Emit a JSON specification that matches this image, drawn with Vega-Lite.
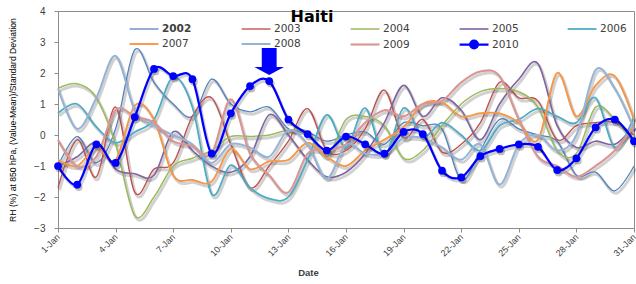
{
  "$schema": "https://vega.github.io/schema/vega-lite/v6.json",
  "width": 576,
  "height": 217,
  "autosize": "none",
  "padding": {"left": 58, "top": 11, "right": 2, "bottom": 56},
  "background": "white",
  "config": {
    "view": {"stroke": "#8c8c8c", "strokeWidth": 1},
    "font": "Liberation Sans",
    "axis": {"labelOverlap": false}
  },
  "title": {
    "text": "Haiti",
    "font": "DejaVu Sans",
    "fontSize": 16,
    "fontWeight": "bold",
    "color": "#000000",
    "anchor": "middle",
    "frame": "group",
    "dx": -34,
    "offset": -27,
    "baseline": "middle"
  },
  "datasets": {
    "rh": [
      {"day": 1, "2002": -1.0, "2003": -1.7, "2004": 1.5, "2005": -1.0, "2006": 0.7, "2007": -0.8, "2008": 1.5, "2009": -0.15, "2010": -1.0},
      {"day": 2, "2002": -0.05, "2003": -0.15, "2004": 1.65, "2005": -0.7, "2006": 1.0, "2007": -1.0, "2008": 0.2, "2009": -1.0, "2010": -1.6},
      {"day": 3, "2002": -0.9, "2003": -1.35, "2004": 1.2, "2005": -0.25, "2006": 0.26, "2007": -0.4, "2008": 1.2, "2009": -0.7, "2010": -0.3},
      {"day": 4, "2002": 0.2, "2003": 0.9, "2004": -0.3, "2005": -1.1, "2006": -0.25, "2007": -0.8, "2008": 2.55, "2009": 0.8, "2010": -0.9},
      {"day": 5, "2002": 2.75, "2003": -1.85, "2004": -2.6, "2005": -1.25, "2006": 0.1, "2007": 0.95, "2008": 0.8, "2009": 0.6, "2010": 0.58},
      {"day": 6, "2002": 1.7, "2003": -1.1, "2004": -2.0, "2005": -1.3, "2006": 0.5, "2007": 0.5, "2008": 0.3, "2009": 0.4, "2010": 2.13},
      {"day": 7, "2002": 1.0, "2003": -0.9, "2004": -1.0, "2005": 0.1, "2006": 1.87, "2007": -1.3, "2008": 0.0, "2009": -0.2, "2010": 1.9},
      {"day": 8, "2002": 0.6, "2003": 0.6, "2004": -0.75, "2005": -0.5, "2006": 0.9, "2007": -1.45, "2008": -0.3, "2009": -0.35, "2010": 1.8},
      {"day": 9, "2002": 1.8, "2003": 1.2, "2004": -0.5, "2005": -1.0, "2006": -1.9, "2007": -1.5, "2008": -0.9, "2009": -0.6, "2010": -0.6},
      {"day": 10, "2002": 1.0, "2003": -0.3, "2004": -0.05, "2005": -1.2, "2006": -0.97, "2007": -0.45, "2008": -0.3, "2009": 1.15, "2010": 0.7},
      {"day": 11, "2002": 0.75, "2003": -1.7, "2004": -0.05, "2005": -0.7, "2006": -1.7, "2007": -1.1, "2008": -0.4, "2009": -0.6, "2010": 1.58},
      {"day": 12, "2002": 0.9, "2003": -1.0, "2004": 0.0, "2005": 0.65, "2006": -2.05, "2007": -0.85, "2008": -0.7, "2009": -1.3, "2010": 1.74},
      {"day": 13, "2002": 0.2, "2003": -0.2, "2004": 0.15, "2005": 0.0, "2006": -2.0, "2007": -0.8, "2008": 0.15, "2009": -1.85, "2010": 0.5},
      {"day": 14, "2002": 0.1, "2003": 0.85, "2004": 0.1, "2005": -0.8, "2006": -0.8, "2007": -0.25, "2008": -0.3, "2009": -0.6, "2010": 0.03},
      {"day": 15, "2002": -0.2, "2003": -0.5, "2004": -0.7, "2005": -1.35, "2006": 0.65, "2007": -0.7, "2008": -1.4, "2009": -0.5, "2010": -0.5},
      {"day": 16, "2002": 0.0, "2003": -0.5, "2004": 0.5, "2005": -1.2, "2006": -0.4, "2007": -1.0, "2008": -0.3, "2009": -0.3, "2010": -0.05},
      {"day": 17, "2002": 0.1, "2003": 0.2, "2004": 0.6, "2005": -0.6, "2006": 0.87, "2007": -0.5, "2008": -0.6, "2009": 0.4, "2010": -0.3},
      {"day": 18, "2002": -0.3, "2003": 1.45, "2004": 0.3, "2005": 0.4, "2006": -0.65, "2007": -0.15, "2008": -0.6, "2009": 0.8, "2010": -0.6},
      {"day": 19, "2002": 0.4, "2003": -0.1, "2004": -0.75, "2005": 1.6, "2006": 0.87, "2007": 0.25, "2008": -0.1, "2009": 0.6, "2010": 0.1},
      {"day": 20, "2002": 0.3, "2003": 0.5, "2004": -0.5, "2005": 0.6, "2006": -0.05, "2007": 1.0, "2008": -0.1, "2009": 1.0, "2010": 0.03},
      {"day": 21, "2002": 0.2, "2003": -0.55, "2004": 0.3, "2005": 1.2, "2006": 0.4, "2007": 1.05, "2008": -0.4, "2009": 1.1, "2010": -1.15},
      {"day": 22, "2002": -1.45, "2003": -0.3, "2004": 1.0, "2005": 0.8, "2006": 0.0, "2007": 0.6, "2008": -0.8, "2009": 1.7, "2010": -1.37},
      {"day": 23, "2002": -0.5, "2003": 0.4, "2004": 1.4, "2005": -0.15, "2006": -0.5, "2007": 0.7, "2008": -0.3, "2009": 2.05, "2010": -0.68},
      {"day": 24, "2002": 0.5, "2003": 1.7, "2004": 1.5, "2005": 1.0, "2006": 0.3, "2007": 0.7, "2008": -1.6, "2009": 1.9, "2010": -0.45},
      {"day": 25, "2002": 0.2, "2003": 1.2, "2004": 1.4, "2005": 1.8, "2006": 0.5, "2007": 0.4, "2008": -0.3, "2009": 0.5, "2010": -0.3},
      {"day": 26, "2002": 0.0, "2003": 1.1, "2004": 0.9, "2005": 2.3, "2006": 0.85, "2007": -0.15, "2008": 0.0, "2009": -0.7, "2010": -0.38},
      {"day": 27, "2002": -0.2, "2003": -0.15, "2004": -0.5, "2005": 0.3, "2006": 0.6, "2007": 2.0, "2008": -0.5, "2009": -1.0, "2010": -1.13},
      {"day": 28, "2002": -1.3, "2003": 0.3, "2004": -0.6, "2005": -0.4, "2006": 0.4, "2007": 0.6, "2008": 0.0, "2009": -1.35, "2010": -0.75},
      {"day": 29, "2002": -1.2, "2003": 0.4, "2004": 0.9, "2005": -0.2, "2006": 1.2, "2007": 1.6, "2008": 2.1, "2009": -1.0, "2010": 0.25},
      {"day": 30, "2002": -1.8, "2003": 0.4, "2004": 0.5, "2005": -0.3, "2006": -0.4, "2007": 1.9, "2008": 1.5, "2009": -0.5, "2010": 0.5},
      {"day": 31, "2002": -1.0, "2003": 0.0, "2004": -0.25, "2005": 0.3, "2006": 0.6, "2007": 0.5, "2008": 0.2, "2009": 0.3, "2010": -0.2}
    ],
    "arrow": [{"day": 12, "v": 2.37}]
  },
  "encoding": {
    "x": {"field": "day", "type": "quantitative", "scale": {"domain": [1, 31], "nice": false, "zero": false},
      "axis": {"values": [1, 4, 7, 10, 13, 16, 19, 22, 25, 28, 31], "labelExpr": "datum.value + '-Jan'", "labelAngle": -45, "labelAlign": "right", "labelBaseline": "middle", "labelFontSize": 9, "labelColor": "#404040", "labelOverlap": false, "labelBound": false, "grid": false, "domainColor": "#8c8c8c", "tickColor": "#8c8c8c", "tickSize": 4, "labelPadding": 3, "title": "Date", "titleFontSize": 9.5, "titleFontWeight": "bold", "titleColor": "#404040", "titleX": 250, "titleY": 44, "titleBaseline": "middle"}},
    "y": {"field": "v", "type": "quantitative", "scale": {"domain": [-3, 4], "nice": false, "zero": false},
      "axis": {"values": [-3, -2, -1, 0, 1, 2, 3, 4], "labelOverlap": false, "labelFontSize": 10, "labelColor": "#404040", "grid": false, "domainColor": "#8c8c8c", "tickColor": "#8c8c8c", "tickSize": 4, "labelPadding": 9, "title": "RH (%) at 850 hPa, (Value-Mean)/Standard Deviation", "titleFont": "Liberation Sans", "titleFontSize": 8.6, "titleFontWeight": "normal", "titleColor": "#000000", "titleX": -46, "titleY": 108.5, "titleAngle": -90, "titleAlign": "center", "titleBaseline": "middle"}}
  },
  "layer": [
    {
      "data": {"name": "rh"},
      "transform": [{"fold": ["2002", "2003", "2004", "2005", "2006", "2007", "2008", "2009", "2010"], "as": ["year", "v"]}],
      "mark": {"type": "line", "interpolate": "cardinal", "color": "#000000", "opacity": 0.18, "strokeWidth": 3, "xOffset": 1.5, "yOffset": 2.5},
      "encoding": {
        "detail": {"field": "year", "type": "nominal"}
      }
    },
    {
      "data": {"name": "rh"},
      "transform": [{"fold": ["2002", "2003", "2004", "2005", "2006", "2007", "2008", "2009", "2010"], "as": ["year", "v"]}],
      "mark": {"type": "line", "interpolate": "cardinal"},
      "encoding": {
        "color": {"field": "year", "type": "nominal",
          "scale": {"domain": ["2002", "2003", "2004", "2005", "2006", "2007", "2008", "2009", "2010"], "range": ["#4F81BD", "#C0504D", "#9BBB59", "#8064A2", "#4BACC6", "#F79646", "#95B3D7", "#D99694", "#0000FF"]},
          "legend": {"orient": "none", "legendX": 82, "legendY": 8.5, "columns": 5, "direction": "horizontal", "title": null, "symbolSize": 289, "symbolStrokeWidth": 1.5, "labelFont": "DejaVu Sans", "labelFontSize": 10.5, "labelColor": "#404040", "labelOffset": 2, "columnPadding": 45, "rowPadding": 0, "padding": 0,
            "encode": {
              "symbols": {"update": {
                "shape": {"signal": "datum.value === '2010' ? 'M-2.4,0H1M-1.15,0A0.45,0.45 0 1,1 -0.25,0A0.45,0.45 0 1,1 -1.15,0Z' : 'M-2.4,0H1'"},
                "fill": {"signal": "datum.value === '2010' ? '#0000FF' : 'transparent'"},
                "strokeWidth": {"signal": "datum.value === '2010' ? 2.5 : 1.5"}
              }},
              "labels": {"update": {"fontWeight": {"signal": "datum.value === '2002' ? 'bold' : 'normal'"}}}
            }}},
        "strokeWidth": {"field": "year", "type": "nominal",
          "scale": {"domain": ["2002", "2003", "2004", "2005", "2006", "2007", "2008", "2009", "2010"], "range": [1.25, 2.25, 2.25, 2.25, 2.25, 2.25, 2.25, 2.25, 3]},
          "legend": null}
      }
    },
    {
      "data": {"name": "rh"},
      "transform": [{"fold": ["2010"], "as": ["year", "v"]}],
      "mark": {"type": "point", "shape": "circle", "filled": true, "color": "#000000", "opacity": 0.25, "size": 60, "xOffset": 1.5, "yOffset": 2.5}
    },
    {
      "data": {"name": "rh"},
      "transform": [{"fold": ["2010"], "as": ["year", "v"]}],
      "mark": {"type": "point", "shape": "circle", "filled": true, "color": "#0000FF", "opacity": 1, "size": 60}
    },
    {
      "data": {"name": "arrow"},
      "mark": {"type": "point", "shape": "M-0.55,-1H0.55V0.4H1.1L0,1L-1.1,0.4H-0.55Z", "filled": true, "color": "#0000FF", "opacity": 1, "size": 729, "strokeWidth": 0}
    }
  ]
}
